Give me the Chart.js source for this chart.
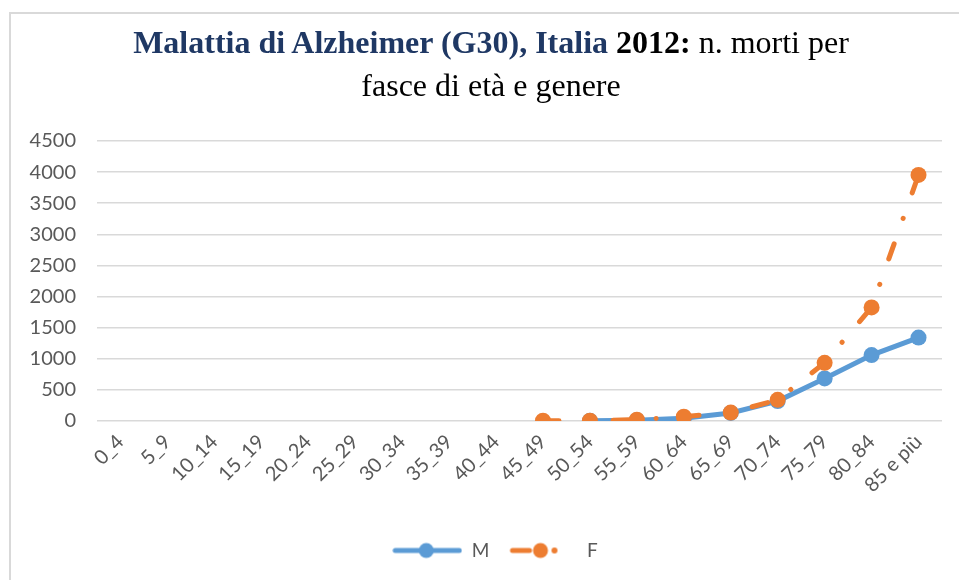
<!DOCTYPE html>
<html>
<head>
<meta charset="utf-8">
<script src="https://cdn.jsdelivr.net/npm/chart.js@4"></script>
<style>
  html, body { margin: 0; padding: 0; background: #fff; }
  #wrap { position: relative; width: 959px; height: 580px; overflow: hidden; }
  #frame { position: absolute; left: 9px; top: 12px; right: -5px; bottom: -5px;
           border-left: 2px solid #d9d9d9; border-top: 2px solid #d9d9d9; }
  .tl { position: absolute; left: 0; width: 982px; text-align: center;
        font-family: "Liberation Serif", "Times New Roman", serif; font-size: 32px;
        color: #000; white-space: nowrap; }
  .blu { color: #1f3864; font-weight: bold; }
  canvas { position: absolute; left: 0; top: 0; }
</style>
</head>
<body>
<div id="wrap">
  <div id="frame"></div>
  <canvas id="myChart" width="959" height="580"></canvas>
  <div class="tl" style="top:24px"><span class="blu">Malattia di Alzheimer (G30), Italia</span> <b>2012:</b> n. morti per</div>
  <div class="tl" style="top:67px">fasce di età e genere</div>
</div>
<script>
let ageLabels = ['0_4', '5_9', '10_14', '15_19', '20_24', '25_29', '30_34', '35_39', '40_44',
                 '45_49', '50_54', '55_59', '60_64', '65_69', '70_74', '75_79', '80_84', '85 e più'];
let maleDeaths = [null, null, null, null, null, null, null, null, null,
                  null, 3, 12, 45, 130, 320, 685, 1060, 1340];
let femaleDeaths = [null, null, null, null, null, null, null, null, null,
                    4, 6, 22, 70, 135, 340, 935, 1825, 3955];

const blue = '#5b9bd5';
const orange = '#ed7d31';
const grey = '#595959';

// legend symbols: line with marker, like the spreadsheet legend
function legendIcon(dashed, color) {
    const c = document.createElement('canvas');
    c.width = 70;
    c.height = 20;
    const g = c.getContext('2d');
    g.strokeStyle = color;
    g.fillStyle = color;
    g.lineWidth = 5;
    g.lineCap = 'round';
    g.beginPath();
    if (dashed) {
        g.moveTo(5, 10);
        g.lineTo(22, 10);
    } else {
        g.moveTo(3, 10);
        g.lineTo(67, 10);
    }
    g.stroke();
    g.beginPath();
    g.arc(dashed ? 33 : 34, 10, 7.5, 0, Math.PI * 2);
    g.fill();
    if (dashed) {
        g.beginPath();
        g.arc(47, 10, 3, 0, Math.PI * 2);
        g.fill();
    }
    return c;
}

// the legend in the original sits a bit right of the canvas centre
const legendShift = {
    id: 'legendShift',
    afterLayout(chart) {
        chart.legend.left += 19;
        chart.legend.right += 19;
    }
};

const ctx = document.getElementById('myChart').getContext('2d');
const myChart = new Chart(ctx, {
    type: 'line',
    data: {
        labels: ageLabels,
        datasets: [
            {
                label: 'M',
                data: maleDeaths,
                borderColor: blue,
                backgroundColor: blue,
                borderWidth: 5,
                pointRadius: 8,
                pointHoverRadius: 8,
                pointBorderWidth: 0,
                pointStyle: 'circle',
                borderCapStyle: 'round',
                tension: 0,
                fill: false,
                order: 2,
            },
            {
                label: 'F',
                data: femaleDeaths,
                borderColor: orange,
                backgroundColor: orange,
                borderWidth: 5,
                borderDash: [16, 27, 0.1, 27],
                borderCapStyle: 'round',
                pointRadius: 8,
                pointHoverRadius: 8,
                pointBorderWidth: 0,
                pointStyle: 'circle',
                tension: 0,
                fill: false,
                order: 1,
            },
        ]
    },
    plugins: [legendShift],
    options: {
        responsive: false,
        animation: false,
        spanGaps: false,
        layout: {
            padding: { left: 10, right: 17, top: 141, bottom: 10 }
        },
        plugins: {
            title: { display: false },
            tooltip: { enabled: false },
            legend: {
                position: 'bottom',
                labels: {
                    usePointStyle: true,
                    pointStyleWidth: 70,
                    padding: 18,
                    color: grey,
                    font: { family: 'Lato', size: 19 },
                    sort: (a, b) => a.datasetIndex - b.datasetIndex,
                    generateLabels: (chart) => chart.data.datasets.map((ds, i) => ({
                        text: ds.label,
                        pointStyle: legendIcon(i === 1, ds.borderColor),
                        fillStyle: ds.borderColor,
                        strokeStyle: ds.borderColor,
                        lineWidth: 0,
                        fontColor: grey,
                        datasetIndex: i,
                        hidden: false,
                    })),
                }
            }
        },
        scales: {
            x: {
                offset: true,
                grid: { display: false, drawTicks: false, offset: true },
                border: { display: false },
                ticks: {
                    color: grey,
                    font: { family: 'Lato', size: 20 },
                    maxRotation: 45,
                    minRotation: 45,
                    autoSkip: false,
                    padding: 9,
                },
                afterFit: (scale) => { scale.height = 102; }
            },
            y: {
                min: 0,
                max: 4500,
                grid: { color: '#d9d9d9', lineWidth: 1.5, drawTicks: false },
                border: { display: false },
                ticks: {
                    stepSize: 500,
                    color: grey,
                    font: { family: 'Lato', size: 20 },
                    padding: 21,
                    callback: (v) => String(v),
                },
                afterFit: (scale) => { scale.width = 87; }
            }
        }
    }
});
</script>
</body>
</html>
